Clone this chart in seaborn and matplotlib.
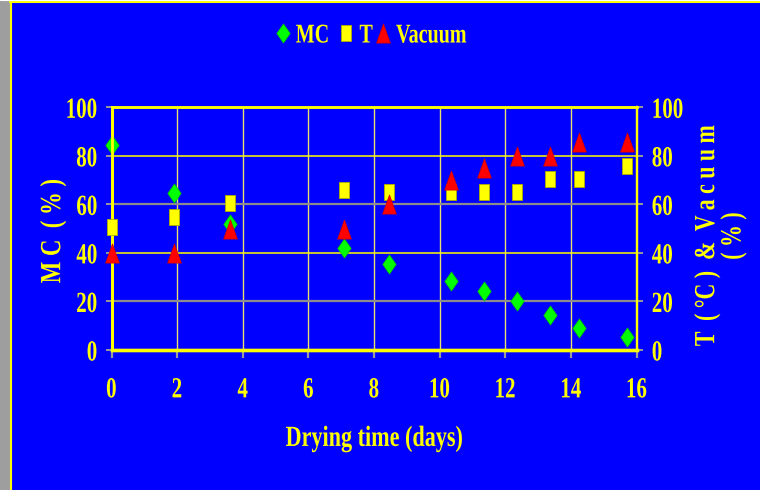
import matplotlib
matplotlib.use("Agg")
import matplotlib.pyplot as plt
import seaborn as sns
import pandas as pd
from matplotlib.path import Path
from matplotlib.lines import Line2D
from matplotlib.patches import Rectangle
from matplotlib.transforms import Affine2D
from matplotlib.patheffects import AbstractPathEffect

# ---- data ----
days = [0, 1.9, 3.6, 7.1, 8.45, 10.35, 11.35, 12.35, 13.35, 14.25, 15.7]
mc = [84.5, 64.5, 52, 42, 35.5, 28.5, 24.5, 20, 14.5, 9, 5.5]
temp = [50.5, 55, 60.5, 66, 65, 65, 65, 65, 70.5, 70.5, 76]
vacuum = [40, 40, 50, 50, 60, 70, 75, 80, 80, 85.5, 85.5]
xticks = [0, 2, 4, 6, 8, 10, 12, 14, 16]
yticks = [0, 20, 40, 60, 80, 100]
series_labels = ["MC", "T", "Vacuum"]

df = pd.DataFrame({"days": days, "MC": mc, "T": temp, "Vacuum": vacuum})

BLUE = "#0000ff"
YEL = "#ffff00"
GRAY = "#9a9a9a"
FONT = "Liberation Serif"


class Squeeze(AbstractPathEffect):
    """Narrow the glyphs along the text direction (condensed look)."""

    def __init__(self, sx=0.7, anchor="center"):
        super().__init__()
        self.sx = sx
        self.anchor = anchor

    def draw_path(self, renderer, gc, tpath, affine, rgbFace=None):
        v = tpath.vertices
        if len(v):
            xmin, xmax = v[:, 0].min(), v[:, 0].max()
        else:
            xmin = xmax = 0
        a = {"left": xmin, "right": xmax, "center": 0.5 * (xmin + xmax)}[self.anchor]
        t = Affine2D().translate(-a, 0).scale(self.sx, 1).translate(a, 0) + affine
        renderer.draw_path(gc, tpath, t, rgbFace)


sns.set_style("ticks")
plt.rcParams["font.family"] = [FONT, "DejaVu Serif"]
plt.rcParams["font.weight"] = "bold"

fig = plt.figure(figsize=(7.6, 4.9), dpi=100, facecolor=BLUE)
ax = fig.add_axes([111.5 / 760, 1 - 350 / 490, 525 / 760, 242.7 / 490])
ax.set_facecolor(BLUE)
ax2 = ax.twinx()
ax2.patch.set_visible(False)

# custom marker shapes (tall diamond, tall rectangle, tall triangle)
diamond = Path([(0, 1), (0.7, 0), (0, -1), (-0.7, 0), (0, 1)],
               [Path.MOVETO, Path.LINETO, Path.LINETO, Path.LINETO, Path.CLOSEPOLY])
rect = Path([(-0.64, -1), (0.64, -1), (0.64, 1), (-0.64, 1), (-0.64, -1)],
            [Path.MOVETO, Path.LINETO, Path.LINETO, Path.LINETO, Path.CLOSEPOLY])
tri = Path([(0, 1), (0.72, -1), (-0.72, -1), (0, 1)],
           [Path.MOVETO, Path.LINETO, Path.LINETO, Path.CLOSEPOLY])

sns.scatterplot(data=df, x="days", y="MC", ax=ax, marker=diamond, s=13.8 ** 2,
                color="#00ff00", edgecolor="#00c000", linewidth=0.5, clip_on=False, zorder=3)
sns.scatterplot(data=df, x="days", y="T", ax=ax2, marker=rect, s=12.2 ** 2,
                color=YEL, edgecolor="#b0b000", linewidth=0.6, clip_on=False, zorder=3)
sns.scatterplot(data=df, x="days", y="Vacuum", ax=ax2, marker=tri, s=13.8 ** 2,
                color="#ff0000", edgecolor="#d00000", linewidth=0.5, clip_on=False, zorder=4)

for a in (ax, ax2):
    a.set_xlim(0, 16)
    a.set_ylim(0, 100)
    a.set_yticks(yticks)
    for s in a.spines.values():
        s.set_color(YEL)
        s.set_visible(True)
    a.spines["left"].set_linewidth(2.0)
    a.spines["right"].set_linewidth(1.6)
    a.spines["top"].set_linewidth(1.8)
    a.spines["bottom"].set_linewidth(2.4)

ax.set_xticks(xticks)
ax.set_xticklabels([str(t) for t in xticks])
ax.set_yticklabels([str(t) for t in yticks])
ax2.set_yticklabels([str(t) for t in yticks])

ax.tick_params(axis="x", direction="out", length=6, width=1.6, color=GRAY, pad=13,
               labelsize=21, labelcolor=YEL)
ax.tick_params(axis="y", direction="out", length=4, width=1.4, color=GRAY, pad=6,
               labelsize=21, labelcolor=YEL)
ax2.tick_params(axis="y", direction="out", length=4, width=1.4, color=GRAY, pad=7,
                labelsize=21, labelcolor=YEL)
ax2.tick_params(axis="x", length=0)

# gridlines: yellow at 40/80, gray at 20/60; vertical light yellow
ax.set_axisbelow(True)
ax.grid(True)
for line, v in zip(ax.yaxis.get_gridlines(), yticks):
    if v in (20, 60):
        line.set_color("#8c8c8c")
        line.set_linewidth(1.6)
    else:
        line.set_color(YEL)
        line.set_linewidth(1.1)
for line in ax.xaxis.get_gridlines():
    line.set_color("#e6e070")
    line.set_linewidth(1.0)

for lab in ax.get_xticklabels():
    lab.set_fontweight("bold")
    lab.set_path_effects([Squeeze(0.72, "center")])
for lab in ax.get_yticklabels():
    lab.set_fontweight("bold")
    lab.set_path_effects([Squeeze(0.72, "right")])
for lab in ax2.get_yticklabels():
    lab.set_fontweight("bold")
    lab.set_path_effects([Squeeze(0.72, "left")])

ax.set_xlabel("Drying time (days)", fontsize=21, fontweight="bold", color=YEL, labelpad=15.5,
              path_effects=[Squeeze(0.76, "center")])
ax.set_ylabel("M C  ( % )", fontsize=21, fontweight="bold", color=YEL,
              path_effects=[Squeeze(0.78, "center")])
ax.yaxis.set_label_coords(-45 / 525, 0.49)
ax2.set_ylabel("T  ( °C )  &  V a c u u m\n( % )", fontsize=21, fontweight="bold", color=YEL,
               linespacing=0.95, path_effects=[Squeeze(0.75, "center")])
ax2.yaxis.set_label_coords(582 / 525, 0.47)

# legend
handles = [
    Line2D([], [], linestyle="none", marker=diamond, markersize=13.8, color="#00ff00",
           markeredgecolor="#00c000", markeredgewidth=0.5),
    Line2D([], [], linestyle="none", marker=rect, markersize=12.2, color=YEL,
           markeredgecolor="#b0b000", markeredgewidth=0.6),
    Line2D([], [], linestyle="none", marker=tri, markersize=13.8, color="#ff0000",
           markeredgecolor="#d00000", markeredgewidth=0.5),
]
leg = fig.legend(handles, series_labels, loc="center", bbox_to_anchor=(383 / 760, 1 - 36 / 490),
                 ncol=3, frameon=False, handlelength=0.6, handletextpad=0.18, columnspacing=-0.1,
                 prop=dict(family=FONT, weight="bold", size=19.5), labelcolor=YEL)
for t in leg.get_texts():
    t.set_path_effects([Squeeze(0.74, "left")])

# scanned-page border: gray strip at left, yellow frame lines
fig.add_artist(Rectangle((0, 0), 9.5 / 760, 1, transform=fig.transFigure,
                         facecolor="#9e9e9e", edgecolor="none", zorder=0.5))
fig.add_artist(Line2D([10.5 / 760, 10.5 / 760], [0, 1 - 2 / 490], transform=fig.transFigure,
                      color=YEL, linewidth=1.5))
fig.add_artist(Line2D([10 / 760, 1], [1 - 2.2 / 490, 1 - 2.2 / 490], transform=fig.transFigure,
                      color=YEL, linewidth=1.5))
fig.add_artist(Line2D([0, 1], [1 - 0.3 / 490, 1 - 0.3 / 490], transform=fig.transFigure,
                      color="white", linewidth=0.8))

fig.savefig("out.png", dpi=100, facecolor=BLUE)
